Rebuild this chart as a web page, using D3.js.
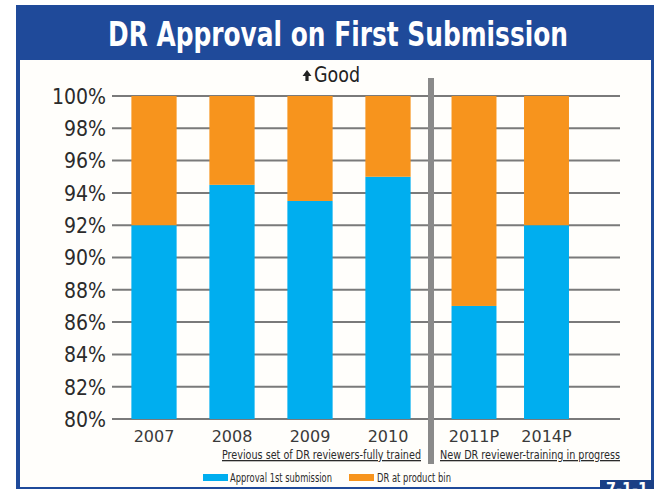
<!DOCTYPE html>
<html>
<head>
<meta charset="utf-8">
<script src="https://cdn.jsdelivr.net/npm/d3@7"></script>
<style>
  html, body { margin: 0; padding: 0; background: #ffffff; }
  svg { display: block; }
  .cond { font-family: "Liberation Sans Narrow", "DejaVu Sans Condensed", "Roboto Condensed", sans-serif; font-stretch: condensed; }
</style>
</head>
<body>
<script>
// ---- data ----
const categoriesBefore = ["2007", "2008", "2009", "2010"];
const categoriesAfter = ["2011P", "2014P"];
const approvalFirst = [92, 94.5, 93.5, 95, 87, 92];
const drAtProductBin = [8, 5.5, 6.5, 5, 13, 8];
const yTicks = [80, 82, 84, 86, 88, 90, 92, 94, 96, 98, 100];
const seriesNames = ["Approval 1st submission", "DR at product bin"];
const groupNotes = ["Previous set of DR reviewers-fully trained", "New DR reviewer-training in progress"];
const titleText = "DR Approval on First Submission";

const categories = categoriesBefore.concat(categoriesAfter);
const colors = ["#00aeef", "#f7941d"];

const W = 654, H = 489;
const svg = d3.select("body").append("svg").attr("width", W).attr("height", H);

// frame
svg.append("rect").attr("x", 16).attr("y", 5).attr("width", 638).attr("height", 484).attr("fill", "#1f4a9a");
svg.append("rect").attr("x", 20).attr("y", 60).attr("width", 631).attr("height", 427).attr("fill", "#fffefb");
svg.append("rect").attr("x", 600).attr("y", 480).attr("width", 54).attr("height", 9).attr("fill", "#1a3f85");
svg.append("text").attr("x", 606).attr("y", 494).attr("fill", "#fff").attr("class", "cond")
  .attr("font-size", 16).attr("font-weight", "bold").text("7-1-1");

// title
svg.append("text").attr("class", "cond")
  .attr("x", 338).attr("y", 46).attr("text-anchor", "middle")
  .attr("fill", "#ffffff").attr("font-size", 34).attr("font-weight", "bold")
  .attr("textLength", 460).attr("lengthAdjust", "spacingAndGlyphs")
  .text(titleText);

// scales
const y = d3.scaleLinear().domain([80, 100]).range([419, 96]);
const xBefore = d3.scaleBand().domain(categoriesBefore).range([115, 427]).paddingInner(0.42).paddingOuter(0.21);
const xAfter = d3.scaleBand().domain(categoriesAfter).range([437.75, 582.75]).paddingInner(0.38).paddingOuter(0.19);
const xOf = c => categoriesBefore.includes(c) ? xBefore(c) : xAfter(c);
const bw = c => categoriesBefore.includes(c) ? xBefore.bandwidth() : xAfter.bandwidth();
const xCenter = c => xOf(c) + bw(c) / 2;

// gridlines
svg.append("g").selectAll("line").data(yTicks).join("line")
  .attr("x1", 112).attr("x2", 620)
  .attr("y1", d => y(d)).attr("y2", d => y(d))
  .attr("stroke", "#7a7a7a").attr("stroke-width", 2);

// y axis labels
const yAxis = d3.axisLeft(y).tickValues(yTicks).tickSize(0).tickPadding(0).tickFormat(d => d + "%");
const gy = svg.append("g").attr("transform", "translate(106,0)").call(yAxis);
gy.select(".domain").remove();
gy.selectAll("text").attr("class", "cond").attr("font-size", 21).attr("fill", "#2b2b2b")
  .attr("dy", "0.35em");

// stacked bars
const rows = categories.map((c, i) => ({ cat: c, a: approvalFirst[i], b: drAtProductBin[i] }));
const stack = d3.stack().keys(["a", "b"]).value((d, k) => d[k]);
const stacked = stack(rows);
svg.append("g").selectAll("g").data(stacked).join("g")
  .attr("fill", (d, i) => colors[i])
  .selectAll("rect").data(d => d).join("rect")
  .attr("x", d => xOf(d.data.cat))
  .attr("width", d => bw(d.data.cat))
  .attr("y", d => y(Math.min(d[1], 100)))
  .attr("height", d => y(Math.max(d[0], 80)) - y(Math.min(d[1], 100)));

// separator
svg.append("rect").attr("x", 428).attr("y", 78).attr("width", 6).attr("height", 386).attr("fill", "#8a8a8a");

// x labels
svg.append("g").selectAll("text").data(categories).join("text")
  .attr("x", d => xCenter(d)).attr("y", 442)
  .attr("text-anchor", "middle")
  .attr("font-family", "'DejaVu Sans', sans-serif").attr("font-size", 16).attr("fill", "#3a3a3a")
  .text(d => d);

// group notes
const notePos = [[222, 199], [440, 180]];
svg.append("g").selectAll("text").data(groupNotes).join("text")
  .attr("class", "cond")
  .attr("x", (d, i) => notePos[i][0]).attr("y", 459)
  .attr("font-size", 13).attr("fill", "#2b2b2b")
  .attr("textLength", (d, i) => notePos[i][1]).attr("lengthAdjust", "spacingAndGlyphs")
  .attr("text-decoration", "underline")
  .text(d => d);

// "Good" marker
svg.append("path").attr("d", "M307,70 L311.5,76 L308.6,76 L308.6,81 L305.4,81 L305.4,76 L302.5,76 Z").attr("fill", "#222");
svg.append("text").attr("class", "cond").attr("x", 314).attr("y", 82)
  .attr("font-size", 21).attr("fill", "#222")
  .attr("textLength", 46).attr("lengthAdjust", "spacingAndGlyphs").text("Good");

// legend
const legX = [[203, 230, 102], [349, 377, 74]];
const leg = svg.append("g").selectAll("g").data(seriesNames).join("g");
leg.append("rect").attr("x", (d, i) => legX[i][0]).attr("y", 474).attr("width", 25).attr("height", 7)
  .attr("fill", (d, i) => colors[i]);
leg.append("text").attr("class", "cond").attr("x", (d, i) => legX[i][1]).attr("y", 482)
  .attr("font-size", 13).attr("fill", "#2b2b2b")
  .attr("textLength", (d, i) => legX[i][2]).attr("lengthAdjust", "spacingAndGlyphs")
  .text(d => d);
</script>
</body>
</html>
